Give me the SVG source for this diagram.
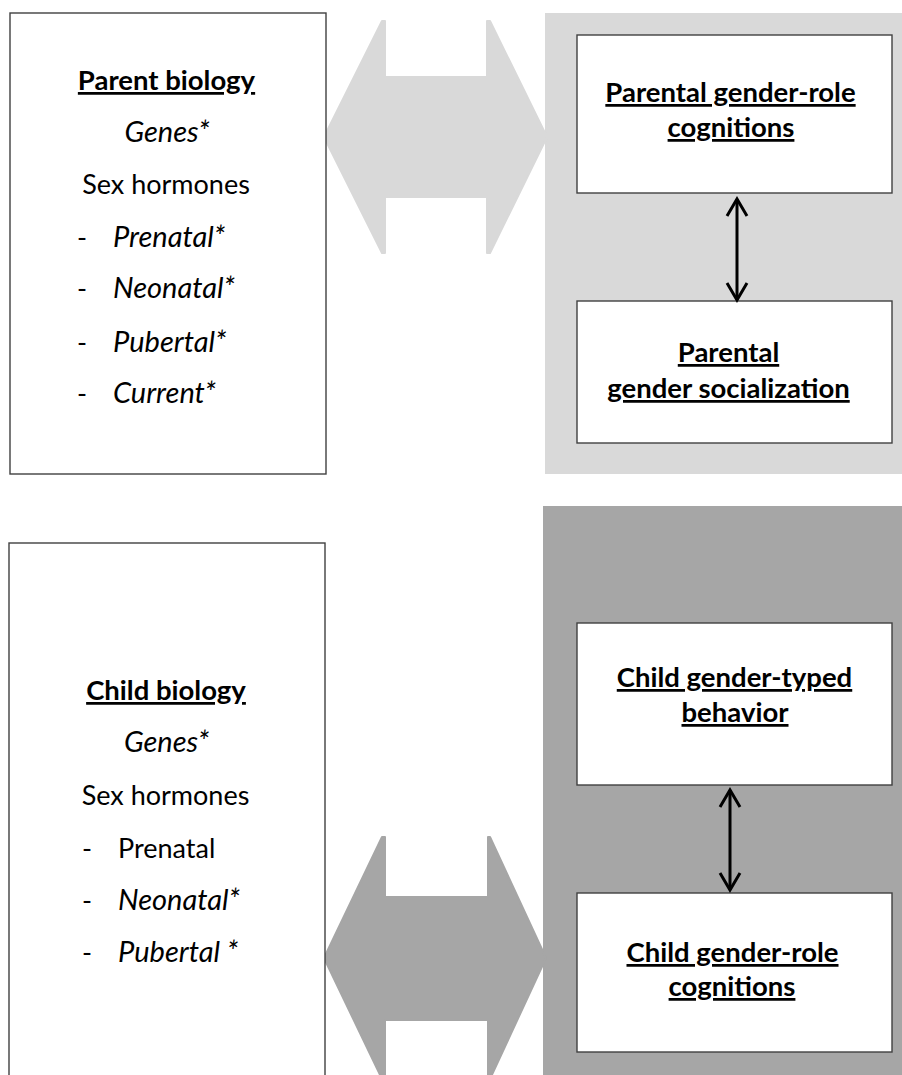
<svg xmlns="http://www.w3.org/2000/svg" width="902" height="1075" viewBox="0 0 902 1075">
  <style>
    .box { fill: #ffffff; stroke: #404040; stroke-width: 1.4; }
    .t { font-family: Lato, "Liberation Sans", sans-serif; font-size: 27px; fill: #000000; }
    .c { text-anchor: middle; }
    .b { font-weight: bold; font-size: 27.5px; text-decoration: underline; }
    .i { font-style: italic; font-size: 29px; }
    .conn { stroke: #000000; stroke-width: 3; fill: none; }
  </style>
  <defs>
    <marker id="vhead" viewBox="-20 -14 24 28" refX="0" refY="0" markerWidth="24" markerHeight="28" markerUnits="userSpaceOnUse" orient="auto-start-reverse">
      <path d="M-17,-10 L0,0 L-17,10" fill="none" stroke="#000000" stroke-width="3" stroke-linejoin="miter"/>
    </marker>
  </defs>

  <!-- background panels -->
  <g id="parent-panel">
    <rect x="545" y="13" width="357" height="461" fill="#d9d9d9"/>
  </g>
  <g id="child-panel">
    <rect x="543" y="506" width="359" height="580" fill="#a6a6a6"/>
  </g>

  <!-- big double arrows -->
  <g id="parent-link">
    <path d="M324,137 L382,21 L385,21 L385,77 L487,77 L487,21 L490,21 L547,137 L490,253 L487,253 L487,197 L385,197 L385,253 L382,253 Z" fill="#d9d9d9" stroke="#d9d9d9" stroke-width="2" stroke-linejoin="round"/>
  </g>
  <g id="child-link">
    <path d="M324,958 L382,837 L385,837 L385,897 L488,897 L488,837 L490,837 L546,958 L490,1079 L488,1079 L488,1020 L385,1020 L385,1079 L382,1079 Z" fill="#a6a6a6" stroke="#a6a6a6" stroke-width="2" stroke-linejoin="round"/>
  </g>

  <!-- Parent biology -->
  <g id="parent-biology">
    <rect class="box" x="10" y="13" width="316" height="461"/>
    <text class="t c b" x="166.5" y="90">Parent biology</text>
    <text class="t c i" x="167" y="142">Genes*</text>
    <text class="t c" x="166" y="194">Sex hormones</text>
    <text class="t" x="77" y="247">-</text>
    <text class="t i" x="113" y="247">Prenatal*</text>
    <text class="t" x="77" y="298">-</text>
    <text class="t i" x="113" y="298">Neonatal*</text>
    <text class="t" x="77" y="352">-</text>
    <text class="t i" x="113" y="352">Pubertal*</text>
    <text class="t" x="77" y="403">-</text>
    <text class="t i" x="113" y="403">Current*</text>
  </g>

  <!-- Child biology -->
  <g id="child-biology">
    <rect class="box" x="9" y="543" width="316" height="560"/>
    <text class="t c b" x="166" y="700">Child biology</text>
    <text class="t c i" x="166.5" y="752">Genes*</text>
    <text class="t c" x="165.5" y="805">Sex hormones</text>
    <text class="t" x="82" y="858">-</text>
    <text class="t" x="118" y="858">Prenatal</text>
    <text class="t" x="82" y="910">-</text>
    <text class="t i" x="118" y="910">Neonatal*</text>
    <text class="t" x="82" y="962">-</text>
    <text class="t i" x="118" y="962">Pubertal *</text>
  </g>

  <!-- Parental gender-role cognitions -->
  <g id="parental-cognitions">
    <rect class="box" x="577" y="35" width="315" height="158"/>
    <text class="t c b" x="730.5" y="102">Parental gender-role</text>
    <text class="t c b" x="731" y="137">cognitions</text>
  </g>

  <!-- Parental gender socialization -->
  <g id="parental-socialization">
    <rect class="box" x="577" y="301" width="315" height="142"/>
    <text class="t c b" x="728.5" y="362">Parental</text>
    <text class="t c b" x="728.5" y="398">gender socialization</text>
  </g>

  <!-- Child gender-typed behavior -->
  <g id="child-behavior">
    <rect class="box" x="577" y="623" width="315" height="162"/>
    <text class="t c b" x="734.5" y="687">Child gender-typed</text>
    <text class="t c b" x="735" y="722">behavior</text>
  </g>

  <!-- Child gender-role cognitions -->
  <g id="child-cognitions">
    <rect class="box" x="577" y="893" width="315" height="159"/>
    <text class="t c b" x="732.5" y="962">Child gender-role</text>
    <text class="t c b" x="732" y="996">cognitions</text>
  </g>

  <!-- connectors -->
  <g id="connectors">
    <line class="conn" x1="737" y1="199" x2="737" y2="300" marker-start="url(#vhead)" marker-end="url(#vhead)"/>
    <line class="conn" x1="730" y1="790" x2="730" y2="890" marker-start="url(#vhead)" marker-end="url(#vhead)"/>
  </g>
</svg>
